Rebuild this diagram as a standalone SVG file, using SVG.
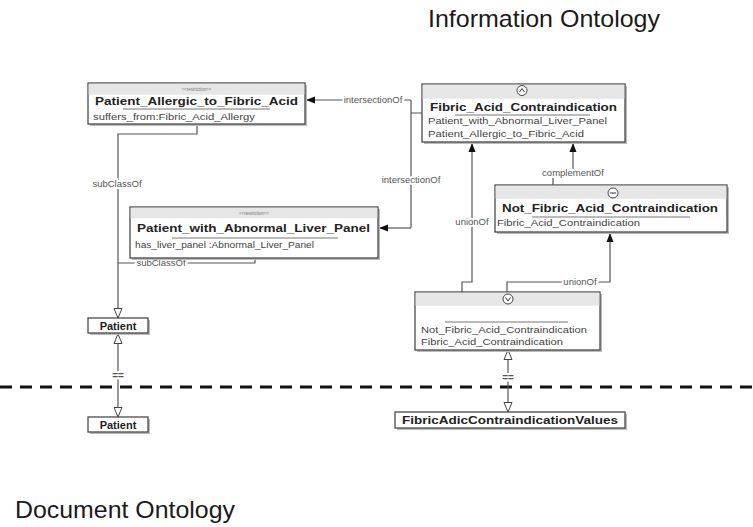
<svg xmlns="http://www.w3.org/2000/svg" width="753" height="527" viewBox="0 0 753 527">
<style>
.box{fill:#fff;stroke:#4a4a4a;stroke-width:1.3}
.hdr{fill:#e6e6e6}
.shadow{fill:#bbb}
.title{font-family:"Liberation Sans",Arial,sans-serif;font-weight:bold;font-size:11px;fill:#222}
.attr{font-family:"Liberation Sans",Arial,sans-serif;font-size:9px;fill:#444}
.stereo{font-family:"Liberation Sans",Arial,sans-serif;font-size:4.5px;fill:#777}
.deco{stroke:#777;stroke-width:1;fill:none}
.conn{fill:none;stroke:#555;stroke-width:1.2}
.lbl{font-family:"Liberation Sans",Arial,sans-serif;font-size:9.5px;fill:#555;stroke:#fff;stroke-width:4;paint-order:stroke;text-anchor:middle}
.eq{font-family:"Liberation Sans",Arial,sans-serif;font-size:10px;font-weight:bold;fill:#555;stroke:#fff;stroke-width:4;paint-order:stroke;text-anchor:middle}
.big{font-family:"Liberation Sans",Arial,sans-serif;font-size:24px;fill:#1a1a1a}
.sym{fill:#fff;stroke:#444;stroke-width:1}
</style>
<defs>
<marker id="fa" markerUnits="userSpaceOnUse" markerWidth="10" markerHeight="8" refX="9" refY="4" orient="auto">
<path d="M0,0.5 L9,4 L0,7.5 Z" fill="#111"/>
</marker>
<marker id="ha" markerUnits="userSpaceOnUse" markerWidth="12" markerHeight="10" refX="10" refY="5" orient="auto-start-reverse">
<path d="M0.5,1 L10,5 L0.5,9 Z" fill="#fff" stroke="#444" stroke-width="1"/>
</marker>
</defs>

<text class="big" x="428" y="27" textLength="232" lengthAdjust="spacingAndGlyphs">Information Ontology</text>
<text class="big" x="15" y="518" textLength="220" lengthAdjust="spacingAndGlyphs">Document Ontology</text>

<line x1="0" y1="387" x2="753" y2="387" stroke="#111" stroke-width="3" stroke-dasharray="12 8"/>

<g id="connectors">
<path class="conn" d="M411,100 H306" marker-end="url(#fa)"/>
<path class="conn" d="M411,228 H379" marker-end="url(#fa)"/>
<path class="conn" d="M422,113 H411 M411,100 V228"/>
<text class="lbl" x="373" y="103">intersectionOf</text>
<text class="lbl" x="411" y="183">intersectionOf</text>
<path class="conn" d="M197,124 V134 H118 V318" marker-end="url(#ha)"/>
<text class="lbl" x="117" y="187">subClassOf</text>
<path class="conn" d="M255,258 V263 H118"/>
<text class="lbl" x="161" y="266">subClassOf</text>
<path class="conn" d="M553,185 V174 H573 V143" marker-end="url(#fa)"/>
<text class="lbl" x="573" y="176">complementOf</text>
<path class="conn" d="M462,292 V282 H472 V143" marker-end="url(#fa)"/>
<text class="lbl" x="472" y="225">unionOf</text>
<path class="conn" d="M507,292 V282 H610 V233" marker-end="url(#fa)"/>
<text class="lbl" x="580" y="285">unionOf</text>
<path class="conn" d="M118,334 V417" marker-start="url(#ha)" marker-end="url(#ha)"/>
<text class="eq" x="118" y="379">==</text>
<path class="conn" d="M508,350 V412" marker-start="url(#ha)" marker-end="url(#ha)"/>
<text class="eq" x="508" y="381">==</text>
</g>

<g id="patient-allergic">
<rect class="shadow" x="90" y="85" width="217" height="41"/>
<rect class="box" x="88" y="83" width="217" height="41"/>
<rect class="hdr" x="88.7" y="83.7" width="215.6" height="11"/>
<text class="stereo" x="196.5" y="91" text-anchor="middle">&lt;&lt;restriction&gt;&gt;</text>
<text class="title" x="95" y="105" textLength="203" lengthAdjust="spacingAndGlyphs">Patient_Allergic_to_Fibric_Acid</text>
<line class="deco" x1="123" y1="109" x2="270" y2="109"/>
<text class="attr" x="93" y="120" textLength="162" lengthAdjust="spacingAndGlyphs">suffers_from:Fibric_Acid_Allergy</text>
</g>

<g id="fibric-acid-contraindication">
<rect class="shadow" x="424" y="86" width="203" height="58"/>
<rect class="box" x="422" y="84" width="203" height="58"/>
<rect class="hdr" x="422.7" y="84.7" width="201.6" height="14"/>
<circle class="sym" cx="522" cy="90.5" r="5"/>
<path d="M519.5,92 L522,88.5 L524.5,92" fill="none" stroke="#333" stroke-width="1"/>
<text class="title" x="430" y="111" textLength="187" lengthAdjust="spacingAndGlyphs">Fibric_Acid_Contraindication</text>
<line class="deco" x1="455" y1="115" x2="590" y2="115"/>
<text class="attr" x="428" y="124" textLength="179" lengthAdjust="spacingAndGlyphs">Patient_with_Abnormal_Liver_Panel</text>
<text class="attr" x="428" y="137" textLength="156" lengthAdjust="spacingAndGlyphs">Patient_Allergic_to_Fibric_Acid</text>
</g>

<g id="patient-liver-panel">
<rect class="shadow" x="132" y="209" width="248" height="51"/>
<rect class="box" x="130" y="207" width="248" height="51"/>
<rect class="hdr" x="130.7" y="207.7" width="246.6" height="10.5"/>
<text class="stereo" x="254" y="214.5" text-anchor="middle">&lt;&lt;restriction&gt;&gt;</text>
<text class="title" x="137" y="232" textLength="233" lengthAdjust="spacingAndGlyphs">Patient_with_Abnormal_Liver_Panel</text>
<line class="deco" x1="172" y1="238" x2="338" y2="238"/>
<text class="attr" x="135" y="248" textLength="179" lengthAdjust="spacingAndGlyphs">has_liver_panel :Abnormal_Liver_Panel</text>
</g>

<g id="not-fibric-acid-contraindication">
<rect class="shadow" x="497" y="187" width="232" height="47"/>
<rect class="box" x="495" y="185" width="232" height="47"/>
<rect class="hdr" x="495.7" y="185.7" width="230.6" height="13"/>
<circle class="sym" cx="613" cy="193" r="5"/>
<line x1="610" y1="193" x2="616" y2="193" stroke="#333" stroke-width="1"/>
<text class="title" x="502" y="212" textLength="216" lengthAdjust="spacingAndGlyphs">Not_Fibric_Acid_Contraindication</text>
<line class="deco" x1="532" y1="217" x2="690" y2="217"/>
<text class="attr" x="497" y="226" textLength="143" lengthAdjust="spacingAndGlyphs">Fibric_Acid_Contraindication</text>
</g>

<g id="union-class">
<rect class="shadow" x="417" y="294" width="185" height="58"/>
<rect class="box" x="415" y="292" width="185" height="58"/>
<rect class="hdr" x="415.7" y="292.7" width="183.6" height="13"/>
<circle class="sym" cx="508" cy="299" r="5"/>
<path d="M505.5,297.5 L508,301 L510.5,297.5" fill="none" stroke="#333" stroke-width="1"/>
<line class="deco" x1="445" y1="322" x2="568" y2="322"/>
<text class="attr" x="421" y="333" textLength="166" lengthAdjust="spacingAndGlyphs">Not_Fibric_Acid_Contraindication</text>
<text class="attr" x="421" y="345" textLength="142" lengthAdjust="spacingAndGlyphs">Fibric_Acid_Contraindication</text>
</g>

<g id="patient-info">
<rect class="shadow" x="90" y="320" width="60" height="15"/>
<rect class="box" x="88" y="318" width="60" height="15"/>
<text class="title" x="118" y="329.5" text-anchor="middle">Patient</text>
</g>

<g id="patient-doc">
<rect class="shadow" x="90" y="419" width="60" height="15"/>
<rect class="box" x="88" y="417" width="60" height="15"/>
<text class="title" x="118" y="428.5" text-anchor="middle">Patient</text>
</g>

<g id="values">
<rect class="shadow" x="397" y="414" width="230" height="16"/>
<rect class="box" x="395" y="412" width="230" height="16"/>
<text class="title" x="402" y="424" textLength="216" lengthAdjust="spacingAndGlyphs">FibricAdicContraindicationValues</text>
</g>
</svg>
